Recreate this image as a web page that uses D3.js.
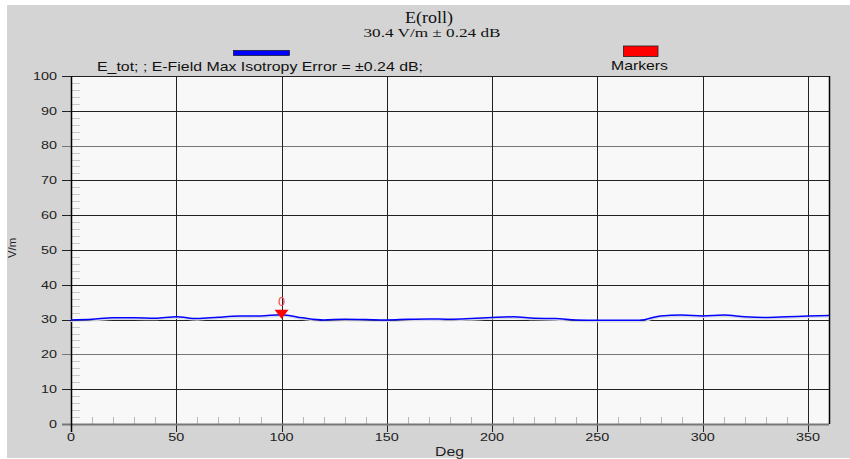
<!DOCTYPE html>
<html><head><meta charset="utf-8">
<script src="https://cdn.jsdelivr.net/npm/d3@7"></script>
<style>body{margin:0;background:#fff}svg{display:block}</style>
</head><body>
<svg id="c" width="850" height="459"></svg>
<script>
const degrees = [0,10,20,30,40,50,60,70,80,90,100,110,120,130,140,150,160,170,180,190,200,210,220,230,240,250,260,270,280,290,300,310,320,330,340,350,360];
const eTot = [29.9,30.1,30.5,30.5,30.4,30.8,30.3,30.7,31.0,31.05,31.4,30.5,29.9,30.1,30.0,29.9,30.1,30.2,30.1,30.3,30.6,30.8,30.4,30.3,29.9,29.8,29.8,29.8,31.05,31.3,31.05,31.3,30.8,30.6,30.8,31.0,31.2];
const markerDeg = [100];
const markerVal = [31.4];
const markerLabels = ["0"];
const xTicks = [0,50,100,150,200,250,300,350];
const yTicks = [0,10,20,30,40,50,60,70,80,90,100];
const title = "E(roll)";
const subtitle = "30.4 V/m ± 0.24 dB";
const legendText = "E_tot; ;  E-Field Max Isotropy Error = ±0.24 dB;";
const markersText = "Markers";

const svg = d3.select("#c");
const L = 71, R = 829, T = 76, B = 424;
const x = d3.scaleLinear().domain([0,360]).range([L,R]);
const y = d3.scaleLinear().domain([0,100]).range([B,T]);
const font = "'Liberation Sans', Arial, sans-serif";
const serif = "'Liberation Serif','Times New Roman',serif";

svg.append("rect").attr("x",7).attr("y",5).attr("width",843).attr("height",453).attr("fill","#d4d4d4");
svg.append("rect").attr("x",L).attr("y",T).attr("width",R-L).attr("height",B-T).attr("fill","#f8f8f8");

// minor ticks
const yMinor = d3.range(0,100,2).filter(v=>v%10!==0);
svg.append("g").selectAll("line").data(yMinor).join("line")
  .attr("x1",L).attr("x2",L+9).attr("y1",d=>Math.round(y(d))+0.5).attr("y2",d=>Math.round(y(d))+0.5)
  .attr("stroke","#c8c8c8").attr("stroke-width",1);
const xMinor = d3.range(10,360,10).filter(v=>v%50!==0);
svg.append("g").selectAll("line").data(xMinor).join("line")
  .attr("x1",d=>Math.round(x(d))+0.5).attr("x2",d=>Math.round(x(d))+0.5).attr("y1",B).attr("y2",B-7)
  .attr("stroke","#b8b8b8").attr("stroke-width",1);

// grid
svg.append("g").selectAll("line").data(yTicks.filter(v=>v>0)).join("line")
  .attr("x1",L-9).attr("x2",R).attr("y1",d=>Math.round(y(d))+0.5).attr("y2",d=>Math.round(y(d))+0.5)
  .attr("stroke",d=> (d===20||d===80)?"#777":"#222").attr("stroke-width",1);
svg.append("g").selectAll("line").data(xTicks).join("line")
  .attr("x1",d=>Math.round(x(d))+0.5).attr("x2",d=>Math.round(x(d))+0.5).attr("y1",T).attr("y2",B+8)
  .attr("stroke","#222").attr("stroke-width",1);
svg.append("line").attr("x1",L-9).attr("x2",R).attr("y1",B+0.5).attr("y2",B+0.5).attr("stroke","#777").attr("stroke-width",2);
svg.append("line").attr("x1",L+0.5).attr("x2",L+0.5).attr("y1",T).attr("y2",B+8).attr("stroke","#000").attr("stroke-width",1.5);
svg.append("line").attr("x1",R+0.5).attr("x2",R+0.5).attr("y1",T).attr("y2",B).attr("stroke","#000").attr("stroke-width",1.5);

// stretched text helper
function stext(g, tx, ty, str, size, len, anchor, fam, fill){
  const t = g.append("text").attr("font-family",fam||font).attr("font-size",size).attr("fill",fill||"#222")
    .attr("textLength",len).attr("lengthAdjust","spacingAndGlyphs").text(str);
  let x0 = tx;
  if(anchor==="middle") x0 = tx - len/2;
  if(anchor==="end") x0 = tx - len;
  t.attr("x",x0).attr("y",ty);
  return t;
}
const yl = svg.append("g");
yTicks.forEach(v=> stext(yl, 57, y(v)+3.8, String(v), 11, String(v).length*8, "end"));
const xl = svg.append("g");
xTicks.forEach(v=> stext(xl, x(v), 441, String(v), 11, String(v).length*8, "middle"));
stext(svg, 449.5, 456, "Deg", 12.5, 29, "middle");
svg.append("text").attr("transform","translate(16,248) rotate(-90)")
  .attr("x",-10).attr("y",0).attr("textLength",20).attr("lengthAdjust","spacingAndGlyphs")
  .attr("font-family",font).attr("font-size",11).attr("fill","#222").text("V/m");

// title
stext(svg, 429, 23, title, 16, 48, "middle", serif, "#111");
stext(svg, 432, 37.3, subtitle, 11.5, 137, "middle", serif, "#111");

// legend
svg.append("rect").attr("x",233.5).attr("y",50.5).attr("width",56).attr("height",5).attr("fill","#0000ff").attr("stroke","#000").attr("stroke-width",0.6);
stext(svg, 97, 70.5, legendText, 13.5, 326, "start", font, "#111");
svg.append("rect").attr("x",623.5).attr("y",46).attr("width",34.5).attr("height",10.5).attr("fill","#ff0000").attr("stroke","#222").attr("stroke-width",0.8);
stext(svg, 611, 69.5, markersText, 13.5, 57, "start", font, "#111");

// data line
const data = degrees.map((d,i)=>({d, v:eTot[i]}));
const line = d3.line().x(p=>x(p.d)).y(p=>y(p.v)).curve(d3.curveMonotoneX);
svg.append("path").datum(data).attr("d",line).attr("transform","translate(0,1.5)")
  .attr("fill","none").attr("stroke","#d6d6e0").attr("stroke-width",1.2);
svg.append("path").datum(data).attr("d",line)
  .attr("fill","none").attr("stroke","#0000ff").attr("stroke-width",1.5);

// markers
markerDeg.forEach((m,i)=>{
  const cx = x(m), cy = y(markerVal[i]);
  svg.append("path").attr("d",`M${cx-7},${cy-5}L${cx+7},${cy-5}L${cx},${cy+4}Z`).attr("fill","#ff0000");
  svg.append("text").attr("x",cx).attr("y",cy-9).attr("text-anchor","middle")
    .attr("font-family","'DejaVu Sans', sans-serif").attr("font-size",12).attr("fill","#ff4444").text(markerLabels[i]);
});
</script>
</body></html>
